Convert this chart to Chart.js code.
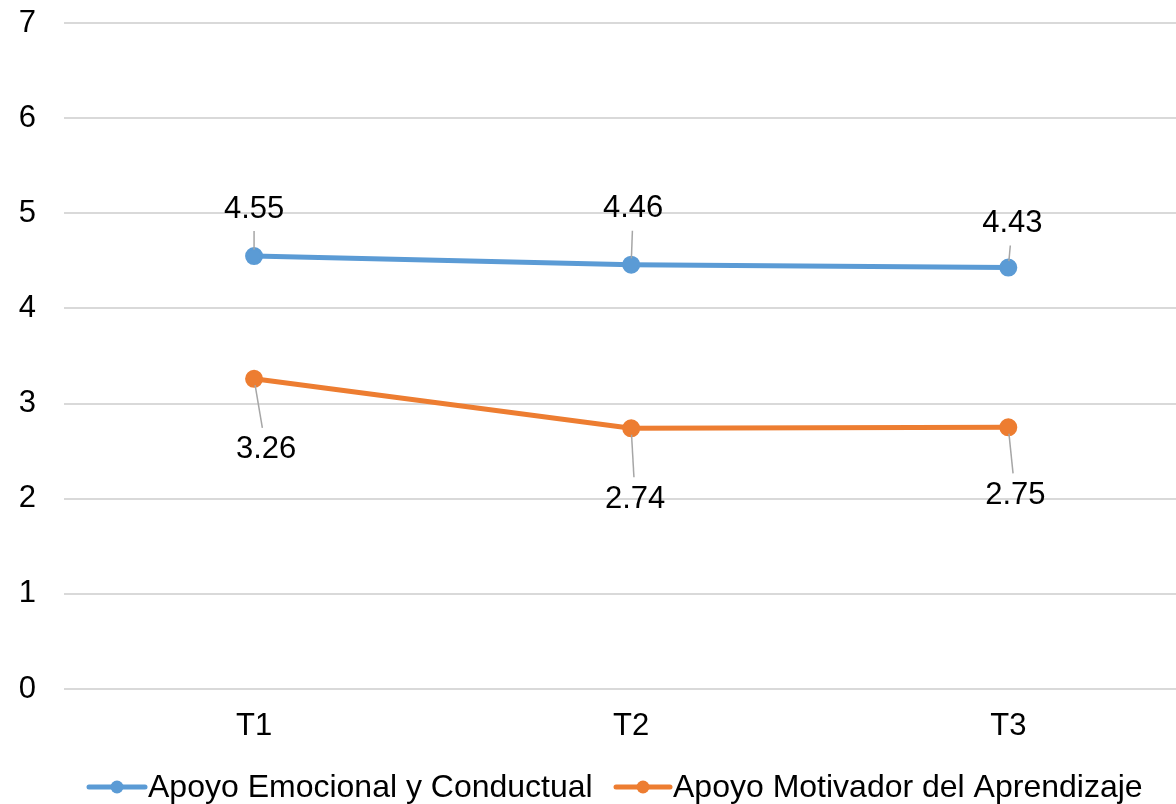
<!DOCTYPE html>
<html>
<head>
<meta charset="utf-8">
<script src="https://cdn.jsdelivr.net/npm/chart.js@4"></script>
<style>
  html, body { margin: 0; padding: 0; background: #fff; overflow: hidden; }
  #wrap { width: 1176px; height: 804px; overflow: hidden; }
</style>
</head>
<body>
<div id="wrap"><canvas id="c" width="1188" height="804"></canvas></div>
<script>
// ---- Data ----
const categories = ['T1', 'T2', 'T3'];
const seriesNames = ['Apoyo Emocional y Conductual', 'Apoyo Motivador del Aprendizaje'];
const emocional = [4.55, 4.46, 4.43];
const motivador = [3.26, 2.74, 2.75];
const yTickValues = [0, 1, 2, 3, 4, 5, 6, 7];

// ---- Style ----
const FONT = '"Liberation Sans", Arial, sans-serif';
const colors = ['#5B9BD5', '#ED7D31'];
// data-label displacement from its point (pixels), per series / per category
const labelShift = [
  [[0, -47], [2, -56], [4, -44]],
  [[12, 71], [4, 71], [7, 68]]
];

const toPoints = arr => arr.map((v, i) => ({ x: i, y: v }));

const labelPlugin = {
  id: 'labels',
  afterDatasetsDraw(chart) {
    const ctx = chart.ctx;
    ctx.save();
    chart.data.datasets.forEach((ds, di) => {
      const meta = chart.getDatasetMeta(di);
      meta.data.forEach((pt, i) => {
        const [dx, dy] = labelShift[di][i];
        const lx = pt.x + dx, ly = pt.y + dy;
        const sgn = dy < 0 ? -1 : 1;
        const endY = ly - sgn * 22;
        const t = (endY - pt.y) / (ly - pt.y);
        const endX = pt.x + dx * t;
        ctx.strokeStyle = '#A6A6A6';
        ctx.lineWidth = 1.5;
        ctx.beginPath();
        ctx.moveTo(pt.x, pt.y);
        ctx.lineTo(endX, endY);
        ctx.stroke();
        ctx.fillStyle = '#000';
        ctx.font = '31px ' + FONT;
        ctx.textAlign = 'center';
        ctx.textBaseline = 'middle';
        ctx.fillText(ds.data[i].y.toFixed(2), lx, ly);
      });
    });
    chart.data.datasets.forEach((ds, di) => {
      chart.getDatasetMeta(di).data.forEach(pt => {
        ctx.fillStyle = colors[di];
        ctx.beginPath();
        ctx.arc(pt.x, pt.y, 6.5, 0, Math.PI * 2);
        ctx.fill();
      });
    });
    ctx.restore();
  }
};

const legendPlugin = {
  id: 'customLegend',
  afterDraw(chart) {
    const ctx = chart.ctx;
    ctx.save();
    const y = 787;
    const items = [
      { x0: 89, x1: 145, tx: 148 },
      { x0: 616, x1: 670, tx: 673 }
    ];
    items.forEach((it, i) => {
      ctx.strokeStyle = colors[i];
      ctx.lineWidth = 5;
      ctx.lineCap = 'round';
      ctx.beginPath();
      ctx.moveTo(it.x0, y);
      ctx.lineTo(it.x1, y);
      ctx.stroke();
      ctx.fillStyle = colors[i];
      ctx.beginPath();
      ctx.arc((it.x0 + it.x1) / 2, y, 6.5, 0, Math.PI * 2);
      ctx.fill();
      ctx.fillStyle = '#000';
      ctx.font = '32px ' + FONT;
      ctx.textAlign = 'left';
      ctx.textBaseline = 'middle';
      ctx.fillText(seriesNames[i], it.tx, y + 1);
    });
    ctx.restore();
  }
};

new Chart(document.getElementById('c'), {
  type: 'line',
  data: {
    datasets: [
      { label: seriesNames[0], data: toPoints(emocional), borderColor: colors[0], backgroundColor: colors[0], borderWidth: 5, pointRadius: 6.5, pointHoverRadius: 6.5, tension: 0 },
      { label: seriesNames[1], data: toPoints(motivador), borderColor: colors[1], backgroundColor: colors[1], borderWidth: 5, pointRadius: 6.5, pointHoverRadius: 6.5, tension: 0 }
    ]
  },
  options: {
    responsive: false,
    animation: false,
    devicePixelRatio: 1,
    layout: { padding: { top: 23, right: 0, left: 0, bottom: 0 } },
    plugins: { legend: { display: false }, tooltip: { enabled: false } },
    scales: {
      x: {
        type: 'linear',
        min: -0.504,
        max: 2.446,
        afterBuildTicks: s => { s.ticks = categories.map((c, i) => ({ value: i })); },
        afterFit: s => { s.height = 115; s.paddingLeft = 0; s.paddingRight = 0; },
        grid: { display: false, drawTicks: false },
        border: { display: false },
        ticks: {
          padding: 19,
          color: '#000',
          font: { family: FONT, size: 31 },
          autoSkip: false,
          maxRotation: 0,
          callback: v => categories[v]
        }
      },
      y: {
        min: 0,
        max: 7,
        afterBuildTicks: s => { s.ticks = yTickValues.map(v => ({ value: v })); },
        afterFit: s => { s.width = 64; s.paddingTop = 0; s.paddingBottom = 0; },
        grid: { color: '#D9D9D9', lineWidth: 2, drawTicks: false },
        border: { display: false },
        ticks: {
          padding: 28,
          color: '#000',
          font: { family: FONT, size: 31 }
        }
      }
    }
  },
  plugins: [labelPlugin, legendPlugin]
});
</script>
</body>
</html>
